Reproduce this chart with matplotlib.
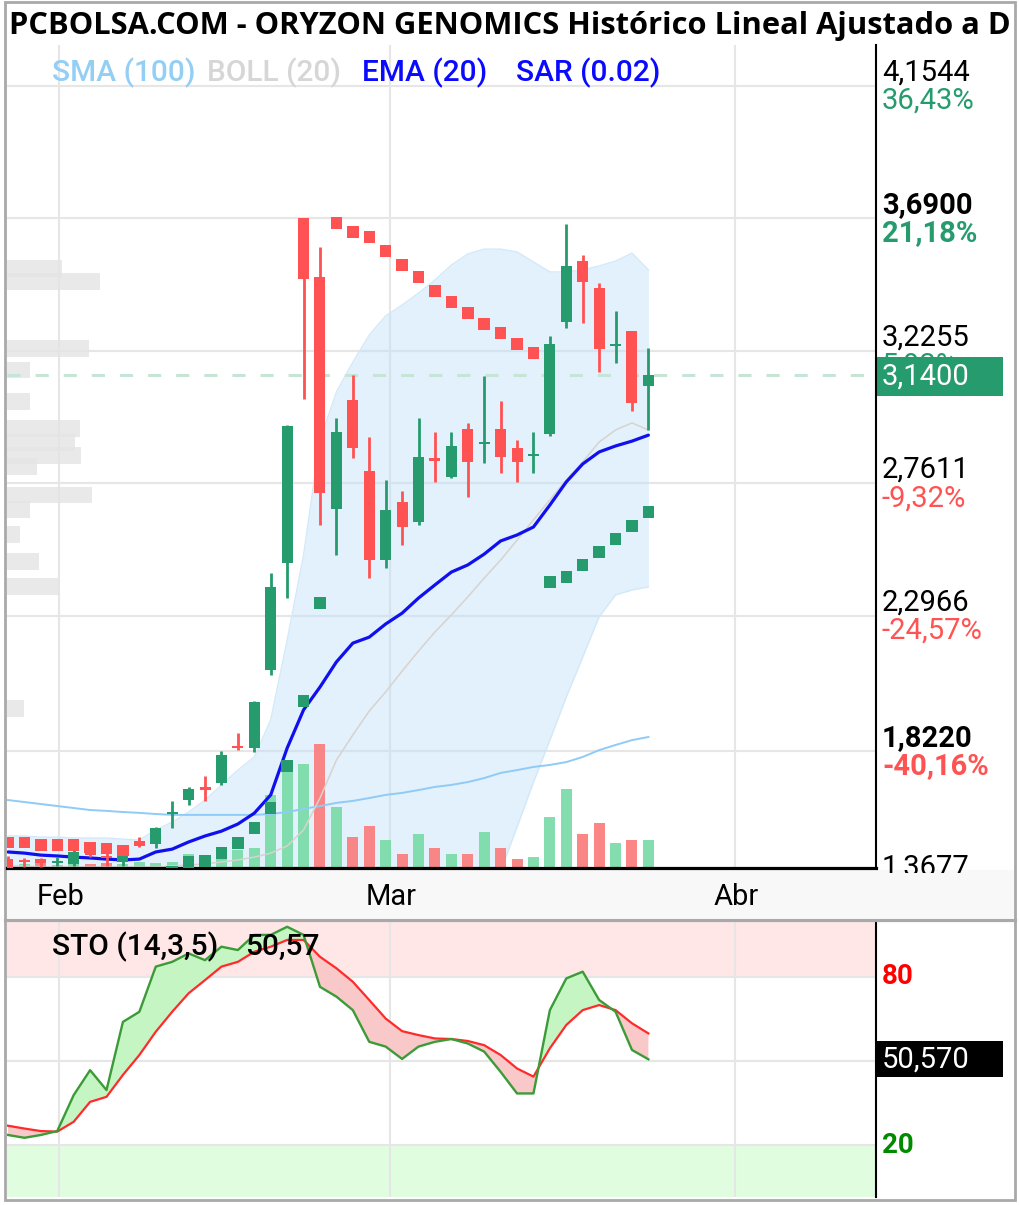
import numpy as np
import matplotlib
matplotlib.use("Agg")
import matplotlib.pyplot as plt
from matplotlib.patches import Rectangle
from matplotlib.transforms import blended_transform_factory, ScaledTranslation, Bbox, TransformedBbox

# ---------------- data ----------------
title = "PCBOLSA.COM - ORYZON GENOMICS Histórico Lineal Ajustado a D"
month_labels = ["Feb", "Mar", "Abr"]
month_pos = [3.1, 23.26, 44.27]          # position of month starts on the session axis

opens = [1.445, 1.440, 1.445, 1.430, 1.425, 1.470, 1.452, 1.433, 1.505, 1.496,
         1.601, 1.650, 1.689, 1.710, 1.838, 1.832, 2.106, 2.481, 3.690, 3.483,
         2.670, 3.052, 2.803, 2.491, 2.695, 2.624, 2.845, 2.782, 2.950, 2.898,
         2.950, 2.884, 2.855, 2.933, 3.325, 3.539, 3.445, 3.240, 3.294, 3.101]
highs = [1.455, 1.447, 1.448, 1.452, 1.475, 1.478, 1.470, 1.468, 1.520, 1.555,
         1.647, 1.696, 1.734, 1.822, 1.885, 1.997, 2.446, 2.965, 3.690, 3.588,
         2.989, 3.140, 2.922, 2.772, 2.733, 2.989, 2.940, 2.940, 2.971, 3.136,
         3.049, 2.912, 2.940, 3.276, 3.669, 3.560, 3.462, 3.364, 3.294, 3.234]
lows = [1.395, 1.415, 1.415, 1.418, 1.420, 1.450, 1.420, 1.420, 1.485, 1.482,
        1.552, 1.633, 1.647, 1.703, 1.827, 1.818, 2.088, 2.358, 3.056, 2.614,
        2.509, 2.849, 2.428, 2.463, 2.544, 2.614, 2.765, 2.779, 2.712, 2.831,
        2.796, 2.765, 2.796, 2.926, 3.304, 3.322, 3.150, 3.182, 3.014, 2.947]
closes = [1.405, 1.432, 1.428, 1.436, 1.468, 1.458, 1.447, 1.462, 1.490, 1.552,
          1.605, 1.689, 1.686, 1.808, 1.832, 1.994, 2.397, 2.961, 3.476, 2.726,
          2.940, 2.884, 2.491, 2.667, 2.607, 2.852, 2.840, 2.891, 2.835, 2.902,
          2.852, 2.835, 2.862, 3.248, 3.522, 3.466, 3.231, 3.250, 3.042, 3.140]
volume = [0.05, 0.04, 0.06, 0.03, 0.05, 0.04, 0.05, 0.04, 0.06, 0.05,
          0.06, 0.14, 0.08, 0.10, 0.18, 0.20, 0.73, 1.05, 1.04, 1.24,
          0.61, 0.31, 0.42, 0.28, 0.14, 0.34, 0.20, 0.14, 0.14, 0.36,
          0.20, 0.09, 0.11, 0.51, 0.79, 0.34, 0.45, 0.25, 0.28, 0.28]
sar = [1.501, 1.501, 1.492, 1.492, 1.492, 1.484, 1.480, 1.473, 1.385, 1.392,
       1.400, 1.433, 1.436, 1.464, 1.499, 1.552, 1.622, 1.769, 1.997, 2.341,
       3.672, 3.641, 3.623, 3.574, 3.525, 3.483, 3.434, 3.396, 3.357, 3.318,
       3.287, 3.248, 3.217, 2.414, 2.432, 2.474, 2.519, 2.565, 2.610, 2.660]
ema20 = [1.468, 1.464, 1.457, 1.454, 1.450, 1.447, 1.443, 1.440, 1.443, 1.468,
         1.478, 1.503, 1.524, 1.541, 1.566, 1.604, 1.668, 1.832, 1.966, 2.046,
         2.134, 2.200, 2.221, 2.267, 2.305, 2.358, 2.404, 2.449, 2.474, 2.512,
         2.558, 2.579, 2.607, 2.684, 2.765, 2.828, 2.870, 2.891, 2.908, 2.929]
sma100 = [1.650, 1.643, 1.636, 1.629, 1.622, 1.615, 1.612, 1.608, 1.605, 1.601,
          1.598, 1.598, 1.598, 1.598, 1.598, 1.598, 1.601, 1.608, 1.619, 1.629,
          1.640, 1.647, 1.657, 1.668, 1.675, 1.685, 1.696, 1.703, 1.713, 1.727,
          1.745, 1.755, 1.766, 1.773, 1.783, 1.801, 1.825, 1.843, 1.860, 1.871]
bb_mid = [1.419, 1.419, 1.415, 1.415, 1.415, 1.415, 1.415, 1.415, 1.415, 1.415,
          1.419, 1.422, 1.426, 1.433, 1.440, 1.450, 1.464, 1.489, 1.545, 1.657,
          1.790, 1.878, 1.962, 2.029, 2.102, 2.172, 2.239, 2.299, 2.362, 2.428,
          2.491, 2.561, 2.632, 2.702, 2.772, 2.835, 2.905, 2.947, 2.972, 2.947]
bb_up = [1.524, 1.524, 1.520, 1.520, 1.517, 1.517, 1.517, 1.513, 1.510, 1.545,
         1.573, 1.608, 1.650, 1.703, 1.755, 1.801, 1.931, 2.211, 2.509, 2.912,
         3.080, 3.185, 3.280, 3.347, 3.385, 3.427, 3.473, 3.525, 3.564, 3.581,
         3.581, 3.571, 3.536, 3.501, 3.501, 3.508, 3.522, 3.539, 3.567, 3.508]
bb_lo = [1.314, 1.314, 1.311, 1.311, 1.314, 1.314, 1.314, 1.318, 1.321, 1.286,
         1.265, 1.237, 1.202, 1.163, 1.125, 1.100, 0.998, 0.767, 0.581, 0.402,
         0.500, 0.571, 0.644, 0.710, 0.819, 0.918, 1.005, 1.072, 1.159, 1.275,
         1.402, 1.555, 1.712, 1.860, 2.011, 2.151, 2.292, 2.369, 2.386, 2.397]
sto_k = [23.6, 22.6, 23.6, 25.0, 37.8, 46.7, 39.6, 63.9, 67.5, 83.6,
         85.3, 88.3, 85.9, 90.7, 89.5, 94.9, 94.9, 97.8, 94.9, 76.4,
         72.9, 68.1, 56.8, 55.1, 50.7, 55.1, 56.8, 57.8, 56.2, 53.3,
         46.1, 38.4, 38.4, 68.1, 79.4, 81.8, 71.7, 67.5, 53.9, 50.57]
sto_d = [26.9, 25.9, 25.0, 24.8, 28.3, 35.4, 37.2, 45.0, 52.1, 60.4,
         67.5, 74.1, 78.8, 83.6, 85.3, 88.9, 90.7, 93.1, 93.1, 87.1,
         83.0, 78.2, 71.7, 65.1, 60.6, 59.2, 58.0, 57.8, 57.1, 55.6,
         52.1, 47.3, 44.4, 54.5, 62.8, 68.1, 69.9, 68.1, 63.4, 59.8]
profile_price = [3.513, 3.467, 3.233, 3.157, 3.047, 2.952, 2.903, 2.858, 2.819,
                 2.719, 2.668, 2.581, 2.486, 2.398, 1.971]
profile_vol = [5.5, 9.3, 8.2, 2.3, 2.3, 7.3, 6.8, 7.4, 3.0, 8.5, 2.3, 1.3, 3.2, 5.2, 1.7]
axis_prices = [4.1544, 3.6900, 3.2255, 2.7611, 2.2966, 1.8220, 1.3677]
axis_pcts = [36.43, 21.18, 5.93, -9.32, -24.57, -40.16, -55.08]
axis_bold = [False, True, False, False, False, True, False]
legend_items = ["SMA (100)", "BOLL (20)", "EMA (20)", "SAR (0.02)"]

# ---------------- style ----------------
GREEN = "#269b6d"
RED = "#ff5252"
VOL_UP = "#7ddcaa"
VOL_DN = "#fa8080"
GRID = "#e6e6e6"
FONT = "Roboto"

W, H = 1020, 1205
fig = plt.figure(figsize=(W / 100, H / 100), dpi=100)
fig.patch.set_facecolor("white")


def R(l, t, r, b):
    return [l / W, 1 - b / H, (r - l) / W, (b - t) / H]


def fmt(v, n):
    return f"{v:.{n}f}".replace(".", ",")


x = np.arange(len(closes))
o = np.array(opens); c = np.array(closes); hi = np.array(highs); lo = np.array(lows)
XL = (-0.06, 52.86)
PL = (1.4118, 4.2964)

# --- main price panel (three stacked layers) ---
main_rect = R(7, 45, 876, 868)
axB = fig.add_axes(main_rect)
axV = fig.add_axes(main_rect, sharex=axB)
ax = fig.add_axes(main_rect, sharex=axB, sharey=axB)
for a, z in ((axB, 0), (axV, 1), (ax, 2)):
    a.set_zorder(z)
    a.tick_params(left=False, bottom=False, labelleft=False, labelbottom=False)
    for s in a.spines.values():
        s.set_visible(False)
axV.patch.set_visible(False)
ax.patch.set_visible(False)
axB.set_xlim(*XL)
axB.set_ylim(*PL)
axB.set_xticks([]); axB.set_yticks([])

# background layer
for p in axis_prices:
    axB.axhline(p, color=GRID, lw=1.5, zorder=0)
for m in month_pos:
    axB.axvline(m, color=GRID, lw=1.5, zorder=0)
axB.barh(profile_price, np.array(profile_vol) * 0.609, height=0.058, left=XL[0],
         color="#e4e4e4", alpha=0.8, lw=0, zorder=1)
axB.fill_between(x, bb_lo, bb_up, color="#bfe0f7", alpha=0.45, lw=0, zorder=2)
axB.plot(x, bb_up, color="#d3e9f9", lw=1.0, zorder=2)
axB.plot(x, bb_lo, color="#d3e9f9", lw=1.0, zorder=2)

# volume layer
prev_close = np.r_[o[0], c[:-1]]
vol_cols = np.where(c >= prev_close, VOL_UP, VOL_DN)
axV.bar(x, volume, width=0.67, color=vol_cols, alpha=0.95, lw=0)
axV.set_ylim(0, 8.23)
axV.set_yticks([])

# price layer
ax.plot(x, sma100, color="#8fcbf6", lw=1.4, zorder=1)
ax.plot(x, bb_mid, color="#d9d2ce", lw=1.1, zorder=1)
ax.axhline(closes[-1], color="#c6e5d7", lw=2.2, dashes=(4.3, 4.9), zorder=1.5)
ax.plot(x, ema20, color="#1010ee", lw=2.3, zorder=2, solid_capstyle="round")
ccol = np.where(c >= o, GREEN, RED)
ax.vlines(x, lo, hi, colors=ccol, lw=2.0, zorder=3)
body = np.maximum(np.abs(c - o), 0.008)
ax.bar(x, body, bottom=np.minimum(o, c), width=0.67, color=ccol, lw=0, zorder=4)
sar_a = np.array(sar)
scol = np.where(sar_a < c, GREEN, RED)
ax.scatter(x, sar_a, marker="s", s=68, c=scol, linewidths=0, zorder=5)
ax.spines["bottom"].set_visible(True)
ax.spines["bottom"].set_color("black")
ax.spines["bottom"].set_linewidth(2.3)
ax.spines["right"].set_visible(True)
ax.spines["right"].set_color("black")
ax.spines["right"].set_linewidth(1.5)

# right price scale
axR = fig.add_axes(R(876, 45, 1015, 873))
axR.set_ylim(4.4541 - 0.003505 * 873, PL[1])
axR.set_xlim(0, 1)
axR.axis("off")
tv = blended_transform_factory(axR.transAxes, axR.transData)
for p, pct, b in zip(axis_prices, axis_pcts, axis_bold):
    fw = "bold" if b else "normal"
    axR.text(0, p, fmt(p, 4), transform=tv + ScaledTranslation(0.06, 0.13, fig.dpi_scale_trans),
             ha="left", va="center", fontsize=21, fontweight=fw, color="black",
             family=FONT, clip_on=True, zorder=2)
    axR.text(0, p, fmt(pct, 2) + "%", transform=tv + ScaledTranslation(0.06, -0.155, fig.dpi_scale_trans),
             ha="left", va="center", fontsize=21, fontweight=fw,
             color=GREEN if pct > 0 else RED, family=FONT, clip_on=True, zorder=2)
box_h = 0.137
axR.add_patch(Rectangle((0.0, closes[-1] - box_h / 2 - 0.007), 0.914, box_h, transform=tv,
                        color=GREEN, lw=0, zorder=5))
axR.text(0, closes[-1] - 0.007, fmt(closes[-1], 4),
         transform=tv + ScaledTranslation(0.06, 0, fig.dpi_scale_trans),
         ha="left", va="center", fontsize=21, color="white", family=FONT, zorder=6)

# month band
fig.add_artist(Rectangle((5 / W, 1 - 918 / H), 1010 / W, 48 / H, transform=fig.transFigure,
                         facecolor="#f8f8f8", edgecolor="none", zorder=-1))
mt = blended_transform_factory(axB.transData, fig.transFigure)
for m, lab in zip(month_pos, month_labels):
    fig.text(m + 0.1, 1 - 897 / H, lab, transform=mt, ha="center", va="center",
             fontsize=21, family=FONT, color="black")
fig.add_artist(plt.Line2D([5 / W, 1015 / W], [1 - 919.5 / H, 1 - 919.5 / H],
                          transform=fig.transFigure, color="#a9a9a9", lw=2.3))

# stochastic panel
axS = fig.add_axes(R(7, 922, 876, 1197), sharex=axB)
axS.set_ylim(1.5, 99.5)
axS.tick_params(left=False, bottom=False, labelleft=False, labelbottom=False)
for s in axS.spines.values():
    s.set_visible(False)
axS.spines["right"].set_visible(True)
axS.spines["right"].set_color("black")
axS.spines["right"].set_linewidth(1.5)
axS.axhspan(80, 100, color="#ffe7e7", lw=0, zorder=0)
axS.axhspan(0, 20, color="#e0fde0", lw=0, zorder=0)
for lv in (80, 50, 20):
    axS.axhline(lv, color=GRID, lw=1.5, zorder=0.5)
for m in month_pos:
    axS.axvline(m, color=GRID, lw=1.5, zorder=0.5)
K = np.array(sto_k); D = np.array(sto_d)
axS.fill_between(x, K, D, where=K >= D, interpolate=True, color="#c6f5c4", lw=0, zorder=1)
axS.fill_between(x, K, D, where=K < D, interpolate=True, color="#f9c8c8", lw=0, zorder=1)
axS.plot(x, D, color="#ff2b2b", lw=1.6, zorder=2)
axS.plot(x, K, color="#3b9b37", lw=1.7, zorder=3)

axSR = fig.add_axes(R(876, 922, 1015, 1197))
axSR.set_ylim(1.5, 99.5)
axSR.set_xlim(0, 1)
axSR.axis("off")
ts = blended_transform_factory(axSR.transAxes, axSR.transData)
axSR.text(0, 80, "80", transform=ts + ScaledTranslation(0.06, 0, fig.dpi_scale_trans),
          ha="left", va="center", fontsize=20, fontweight="bold", color="#ff0000", family=FONT)
axSR.text(0, 20, "20", transform=ts + ScaledTranslation(0.06, 0, fig.dpi_scale_trans),
          ha="left", va="center", fontsize=20, fontweight="bold", color="#008a00", family=FONT)
axSR.add_patch(Rectangle((0.007, sto_k[-1] - 6.4), 0.907, 12.8, transform=ts,
                         color="black", lw=0, zorder=5))
axSR.text(0, sto_k[-1], fmt(sto_k[-1], 3), transform=ts + ScaledTranslation(0.06, 0, fig.dpi_scale_trans),
          ha="left", va="center", fontsize=21, color="white", family=FONT, zorder=6)

fig.text(52 / W, 1 - 947 / H, "STO (14,3,5)", ha="left", va="center", fontsize=21.5,
         fontweight="medium", family=FONT, color="black")
fig.text(245 / W, 1 - 947 / H, fmt(sto_k[-1], 2), ha="left", va="center", fontsize=21.5,
         fontweight="medium", family=FONT, color="black")

# legend
leg_x = [52, 207, 362, 516]
leg_c = ["#93cff5", "#d6d6d6", "#0a0aff", "#0a0aff"]
for lx, lt, lc in zip(leg_x, legend_items, leg_c):
    fig.text(lx / W, 1 - 73 / H, lt, ha="left", va="center", fontsize=21.5,
             fontweight="medium", family=FONT, color=lc)

# title
t = fig.text(9 / W, 1 - 26 / H, title, ha="left", va="center", fontsize=22.25,
             fontweight="bold", family="Open Sans", color="black")
t.set_clip_box(TransformedBbox(Bbox([[0, 0], [1015 / W, 1]]), fig.transFigure))
t.set_clip_on(True)

# outer border
fig.add_artist(Rectangle((5 / W, 1 - 1200 / H), 1010 / W, 1198 / H, transform=fig.transFigure,
                         fill=False, edgecolor="#a9a9a9", lw=2.0))

fig.savefig("out.png", dpi=100, facecolor="white")
